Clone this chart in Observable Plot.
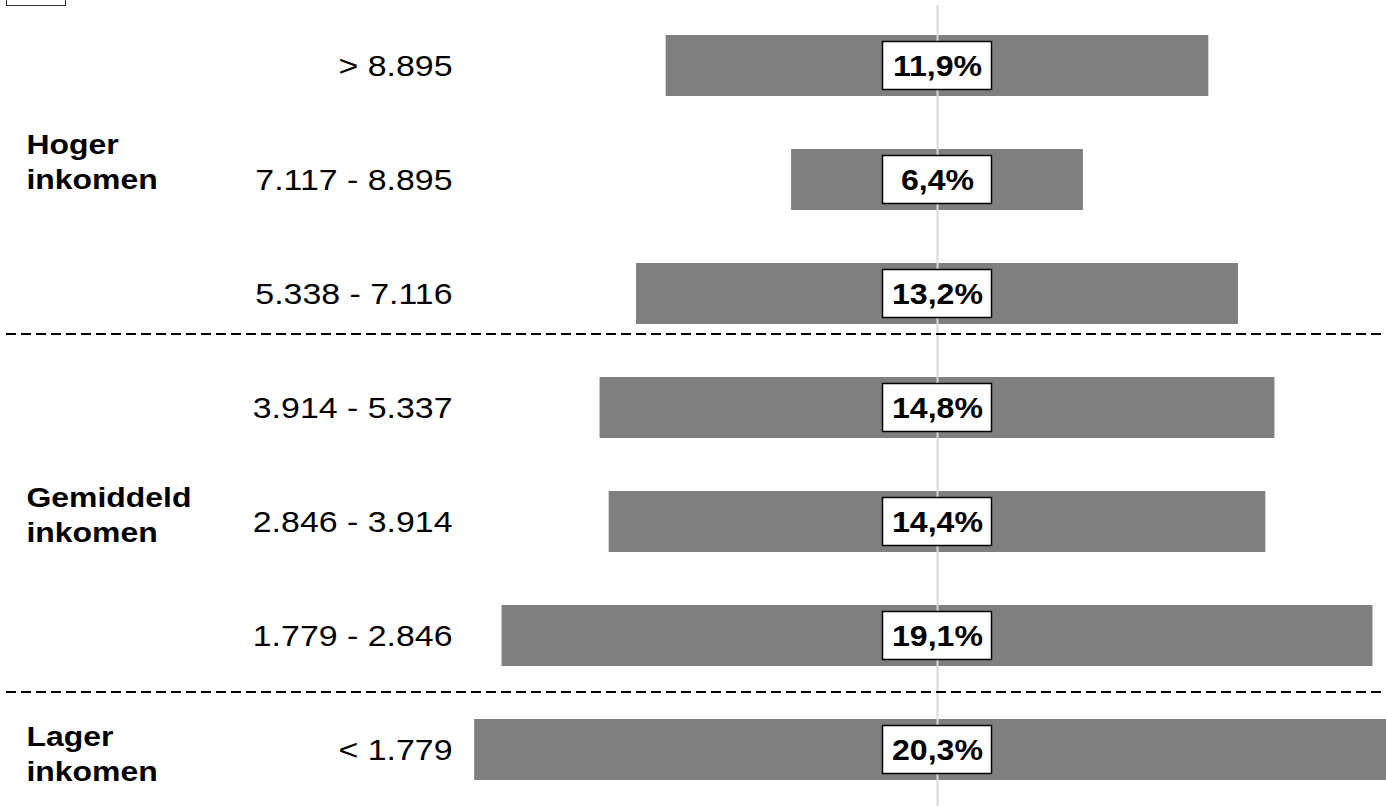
<!DOCTYPE html>
<html>
<head>
<meta charset="utf-8">
<script src="https://cdn.jsdelivr.net/npm/d3@7"></script>
<script src="https://cdn.jsdelivr.net/npm/@observablehq/plot@0.6"></script>
<style>
  html, body { margin: 0; padding: 0; background: #fff; overflow: hidden; }
  #wrap { position: relative; width: 1386px; height: 806px; }
  #corner { position: absolute; left: 6px; top: -10px; width: 58px; height: 14px; border: 1.5px solid #333; }
</style>
</head>
<body>
<div id="wrap"><div id="corner"></div></div>
<script>
// Income brackets (top to bottom)
const categories = ["> 8.895", "7.117 - 8.895", "5.338 - 7.116", "3.914 - 5.337", "2.846 - 3.914", "1.779 - 2.846", "< 1.779"];
// Share per bracket (%)
const values = [11.9, 6.4, 13.2, 14.8, 14.4, 19.1, 20.3];
// Group labels
const groupLabels = ["Hoger\ninkomen", "Gemiddeld\ninkomen", "Lager\ninkomen"];
const groupRows = ["7.117 - 8.895", "2.846 - 3.914", "< 1.779"];
const groupOffsets = [-20, -9, 2];
// Separators below these rows
const separatorRows = ["5.338 - 7.116", "1.779 - 2.846"];
const separatorOffsets = [40, 56];

const data = categories.map((c, i) => ({cat: c, v: values[i]}));
const fmt = v => v.toFixed(1).replace(".", ",") + "%";
const FONT = "Liberation Sans, Arial, Helvetica, sans-serif";

const W = 1386, H = 806;
const pxPerUnit = 45.6;
const center = 937;

const groupMarks = groupLabels.map((g, i) =>
  Plot.text([{cat: groupRows[i], g}], {
    y: "cat", text: "g", frameAnchor: "left", textAnchor: "start",
    dx: 26, dy: groupOffsets[i], fontSize: 28, fontWeight: "bold",
    lineHeight: 1.25, fill: "#000", fontFamily: FONT, ariaDescription: "groups"
  })
);
const sepMarks = separatorRows.map((r, i) =>
  Plot.ruleY([r], {
    y: d => d, dy: separatorOffsets[i], stroke: "#000", strokeWidth: 2,
    strokeDasharray: "10,5", insetLeft: 6
  })
);

const chart = Plot.plot({
  width: W, height: H,
  marginTop: 0, marginBottom: 0, marginLeft: 0, marginRight: 0,
  style: {fontFamily: FONT, background: "transparent"},
  x: {domain: [-center / pxPerUnit, (W - center) / pxPerUnit], axis: null},
  y: {type: "band", domain: categories, range: [33, 781], paddingInner: 0.467, paddingOuter: 0, axis: null},
  marks: [
    Plot.barX(data, {y: "cat", x1: d => -d.v / 2, x2: d => d.v / 2, fill: "#7f7f7f", clip: true}),
    Plot.ruleX([0], {stroke: "#d9d9d9", strokeWidth: 2, insetTop: 5}),
    ...sepMarks,
    Plot.barX(data, {y: "cat", x1: 0, x2: 0, insetLeft: -54.5, insetRight: -54.5, insetTop: 6.5, insetBottom: 6.5, fill: "#fff", stroke: "#000", strokeWidth: 1.5}),
    Plot.text(data, {y: "cat", x: 0, text: d => fmt(d.v), fontSize: 30, fontWeight: "bold", fill: "#000", fontFamily: FONT, ariaDescription: "values"}),
    Plot.text(data, {y: "cat", text: "cat", frameAnchor: "left", textAnchor: "end", dx: 452, fontSize: 30, fill: "#000", fontFamily: FONT, ariaDescription: "cats"}),
    ...groupMarks
  ]
});
document.getElementById("wrap").prepend(chart);

// Horizontal text stretch to match the reference's wide lettering
function stretch(name, s) {
  d3.select(chart).selectAll(`g[aria-description="${name}"] text`).each(function () {
    const t = d3.select(this);
    let tr = t.attr("transform");
    if (!tr) {
      const x = +t.attr("x") || 0, y = +t.attr("y") || 0;
      t.attr("x", null).attr("y", null);
      tr = `translate(${x},${y})`;
    }
    t.attr("transform", `${tr} scale(${s},1)`);
  });
}
stretch("cats", 1.13);
stretch("groups", 1.14);
stretch("values", 1.07);
</script>
</body>
</html>
